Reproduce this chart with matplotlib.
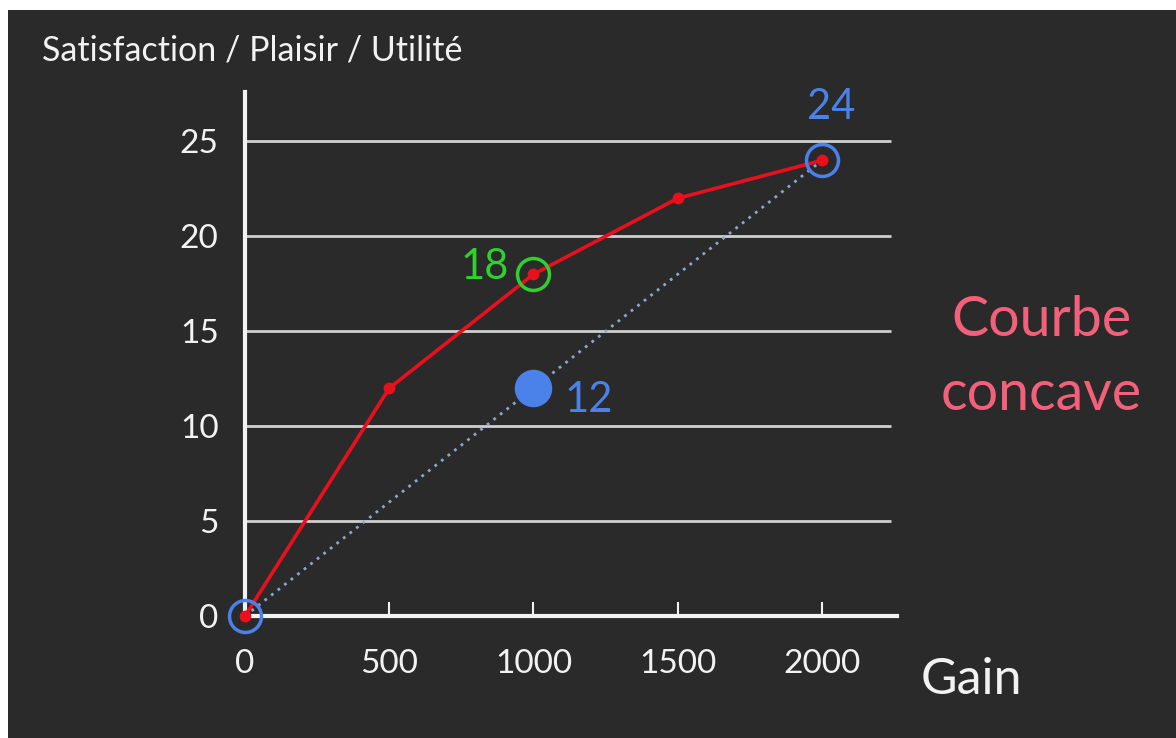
import matplotlib.pyplot as plt
from matplotlib.patches import Rectangle

gain = [0, 500, 1000, 1500, 2000]
satisfaction = [0, 12, 18, 22, 24]
chord_x = [0, 2000]
chord_y = [0, 24]
mid_gain = 1000
mid_chord = 12
xticks = [0, 500, 1000, 1500, 2000]
yticks = [0, 5, 10, 15, 20, 25]

board = "#2a2a2a"
chalk = "#f2f2f2"
blue = "#4a82ea"
green = "#2ed12e"
pink = "#f2607a"
red = "#e8101c"

plt.rcParams['font.family'] = ['Lato', 'DejaVu Sans']

fig = plt.figure(figsize=(11.76, 7.38), dpi=100, facecolor="white")
fig.patches.append(Rectangle((8 / 1176, 0), 1, 728 / 738, transform=fig.transFigure,
                             facecolor=board, edgecolor="none", zorder=-10))

ax = fig.add_axes([245 / 1176, 122 / 738, 652 / 1176, 524 / 738])
ax.set_facecolor("none")
ax.set_xlim(0, 2260)
ax.set_ylim(0, 27.6)

for y in yticks[1:]:
    ax.hlines(y, 0, 2240, color="#cfcfcf", lw=2, zorder=1)

ax.plot(chord_x, chord_y, color="#8fa6cc", lw=2, ls=(0, (1, 2)), zorder=2, clip_on=False)
ax.plot(gain, satisfaction, color=red, lw=2.6, marker="o", ms=7.5, zorder=3, clip_on=False)

ax.plot([mid_gain], [mid_chord], "o", color=blue, ms=26, zorder=4)
ax.plot([chord_x[0], chord_x[1]], [chord_y[0], chord_y[1]], "o", mfc="none", mec=blue,
        mew=2.5, ms=23, zorder=5, clip_on=False)
ax.plot([gain[2]], [satisfaction[2]], "o", mfc="none", mec=green, mew=2.5, ms=23, zorder=5)

ax.text(gain[2] - 170, satisfaction[2] + 0.4, "18", color=green, fontsize=30, ha="center", va="center")
ax.text(mid_gain + 190, mid_chord - 0.6, "12", color=blue, fontsize=30, ha="center", va="center")
ax.text(chord_x[1] + 30, chord_y[1] + 2.8, "24", color=blue, fontsize=30, ha="center", va="center")

for s in ["top", "right"]:
    ax.spines[s].set_visible(False)
for s in ["left", "bottom"]:
    ax.spines[s].set_color(chalk)
    ax.spines[s].set_linewidth(3)

ax.set_xticks(xticks)
ax.set_xticklabels([str(v) for v in xticks])
ax.set_yticks(yticks)
ax.set_yticklabels([str(v) for v in yticks])
ax.tick_params(axis="x", direction="in", length=10, width=1.5, color=chalk, labelcolor=chalk,
               labelsize=24, pad=24)
ax.tick_params(axis="y", length=0, labelcolor=chalk, labelsize=24, pad=19)

fig.text(42 / 1176, 1 - 50 / 738, "Satisfaction / Plaisir / Utilité", color=chalk,
         fontsize=24.5, ha="left", va="center")
fig.text(971 / 1176, 1 - 680 / 738, "Gain", color=chalk, fontsize=36, ha="center", va="center")
fig.text(1041 / 1176, 1 - 320 / 738, "Courbe", color=pink, fontsize=40, ha="center", va="center")
fig.text(1041 / 1176, 1 - 395 / 738, "concave", color=pink, fontsize=40, ha="center", va="center")

fig.savefig("out.png", dpi=100, facecolor=fig.get_facecolor())
